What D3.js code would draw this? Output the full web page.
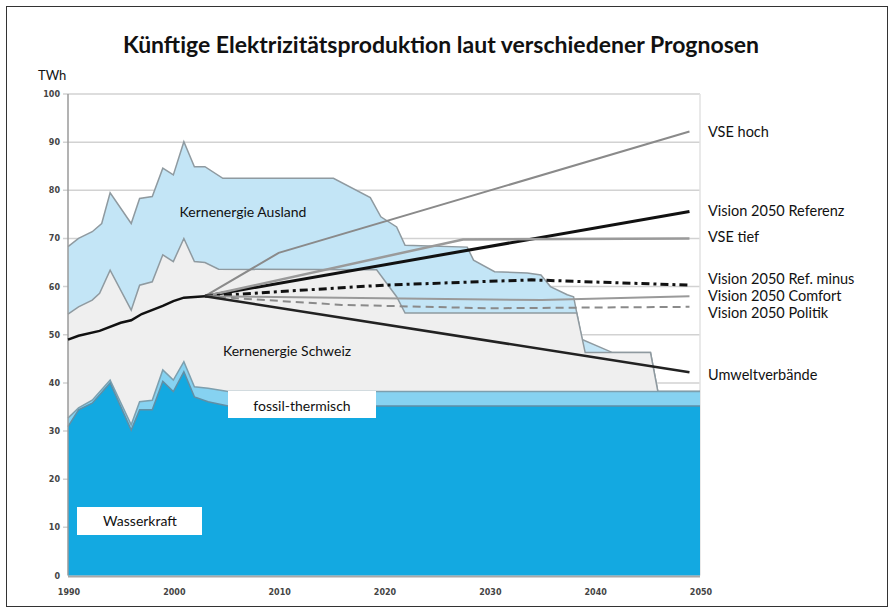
<!DOCTYPE html>
<html>
<head>
<meta charset="utf-8">
<script src="https://cdn.jsdelivr.net/npm/d3@7"></script>
<style>
  body { margin: 0; background: #fff; }
  svg { display: block; font-family: Lato, "Open Sans", sans-serif; }
  .tick-label { font-family: "DejaVu Sans", sans-serif; font-weight: bold; font-size: 8px; fill: #444; }
  .lbl { font-size: 14px; fill: #111; }
  .side { font-size: 14.5px; }
</style>
</head>
<body>
<div class="chart"></div>
<script>
// cumulative tops of the stacked supply areas (year, TWh)
const wasserkraft = [[1990, 30.9], [1991, 34.4], [1992.3, 35.8], [1994, 40], [1996, 30.2], [1996.8, 34.4],
  [1998, 34.4], [1999, 40.3], [2000, 38.2], [2001, 42.3], [2002, 37.1], [2003.3, 36.1], [2005.2, 35.2], [2050, 35.2]];
const fossil = [[1990, 32.7], [1991, 34.8], [1992.3, 36.4], [1994, 40.6], [1996, 31.3], [1996.8, 36.1],
  [1998, 36.4], [1999, 42.7], [2000, 40.6], [2001, 44.4], [2002, 39.2], [2003.3, 38.9], [2005.2, 38.2], [2050, 38.2]];
const kernSchweiz = [[1990, 54.3], [1991, 55.8], [1992.3, 57.2], [1993, 58.6], [1994, 63.4], [1996, 55.1],
  [1996.8, 60.3], [1998, 61], [1999, 66.6], [2000, 65.2], [2001, 70], [2002, 65.2], [2003, 65], [2004.3, 63.6],
  [2019.3, 63.5], [2021.2, 57.9], [2022, 54.5], [2038.3, 54.5], [2039.1, 46.3], [2045.3, 46.3], [2046, 38.2], [2050, 38.2]];
const kernAusland = [[1990, 68.3], [1991, 70], [1992.3, 71.4], [1993.2, 73.1], [1994, 79.5], [1996, 73.1],
  [1996.8, 78.3], [1998, 78.7], [1999, 84.6], [2000, 83.2], [2001, 90.1], [2002, 84.9], [2003, 84.9],
  [2004.7, 82.5], [2015.2, 82.5], [2018.7, 78.5], [2019.7, 74.5], [2021.2, 72.4], [2022, 68.6], [2027.9, 68.2],
  [2028.5, 65.5], [2030.5, 63.1], [2033.6, 62.8], [2034.9, 62.4], [2035.8, 60], [2037.4, 58.3], [2038, 57.9],
  [2038.8, 49], [2041.7, 46.3], [2045.3, 46.3], [2046, 38.2], [2050, 38.2]];

// production 1990-2003 and scenarios
const historisch = [[1990, 49], [1991, 49.8], [1993, 50.8], [1995, 52.5], [1996, 53], [1997, 54.3],
  [1999, 56], [2000, 57], [2001, 57.7], [2003, 58]];
const vseHoch = [[2003, 58], [2010, 67], [2049, 92.2]];
const referenz = [[2003, 58], [2049, 75.6]];
const vseTief = [[2003, 58], [2027.5, 69.8], [2049, 70]];
const refMinus = [[2003, 58], [2020, 60.3], [2034, 61.4], [2049, 60.3]];
const comfort = [[2003, 58], [2035, 57.2], [2049, 58]];
const politik = [[2003, 58], [2016, 56.2], [2030, 55.5], [2049, 55.8]];
const umwelt = [[2003, 58], [2049, 42.2]];

const scenarioNames = ["VSE hoch", "Vision 2050 Referenz", "VSE tief", "Vision 2050 Ref. minus",
  "Vision 2050 Comfort", "Vision 2050 Politik", "Umweltverbände"];
const labelValues = [92.2, 75.6, 70.2, 61.6, 58, 54.5, 41.6];

const yTicks = [0, 10, 20, 30, 40, 50, 60, 70, 80, 90, 100];
const xTicks = [1990, 2000, 2010, 2020, 2030, 2040, 2050];

const W = 895, H = 614;

const x = d3.scaleLinear().domain([1990, 2050]).range([68, 700]);
const y = d3.scaleLinear().domain([0, 100]).range([575.5, 94]);

const svg = d3.select(".chart").append("svg")
  .attr("width", W)
  .attr("height", H);

// frame
svg.append("rect")
  .attr("x", 6.5).attr("y", 6.5)
  .attr("width", 881).attr("height", 600)
  .attr("fill", "none")
  .attr("stroke", "#333")
  .attr("stroke-width", 1);

svg.append("text")
  .attr("x", 441).attr("y", 53)
  .attr("text-anchor", "middle")
  .style("font-size", "23px")
  .style("font-weight", "bold")
  .style("fill", "#111")
  .text("Künftige Elektrizitätsproduktion laut verschiedener Prognosen");

svg.append("text")
  .attr("x", 38).attr("y", 80)
  .attr("class", "lbl")
  .style("font-size", "13px")
  .text("TWh");

// gridlines
svg.append("g").selectAll("line")
  .data(yTicks.filter(d => d > 0))
  .join("line")
  .attr("x1", 63).attr("x2", 700)
  .attr("y1", d => y(d)).attr("y2", d => y(d))
  .attr("stroke", "#d2d2d2")
  .attr("stroke-width", 1.5);

svg.append("line")
  .attr("x1", 700).attr("x2", 700)
  .attr("y1", y(100)).attr("y2", y(0))
  .attr("stroke", "#e2e2e2")
  .attr("stroke-width", 1.5);

// stacked areas, painted from the largest down
const area = d3.area()
  .x(d => x(d[0]))
  .y0(y(0))
  .y1(d => y(d[1]));
const topLine = d3.line()
  .x(d => x(d[0]))
  .y(d => y(d[1]));

const layers = [
  { data: kernAusland, fill: "#c3e5f6", stroke: "#8f9aa0" },
  { data: kernSchweiz, fill: "#efefef", stroke: "#8f9aa0" },
  { data: fossil, fill: "#86d2f1", stroke: "#7d9fae" },
  { data: wasserkraft, fill: "#13a9e1", stroke: "#5f8fa6" }
];

layers.forEach(l => {
  svg.append("path")
    .datum(l.data)
    .attr("d", area)
    .attr("fill", l.fill);
  svg.append("path")
    .datum(l.data)
    .attr("d", topLine)
    .attr("fill", "none")
    .attr("stroke", l.stroke)
    .attr("stroke-width", 1.5);
});

// axes
svg.append("line")
  .attr("x1", 68).attr("x2", 68)
  .attr("y1", y(100)).attr("y2", y(0))
  .attr("stroke", "#9a9a9a")
  .attr("stroke-width", 1.5);
svg.append("line")
  .attr("x1", 68).attr("x2", 700)
  .attr("y1", y(0) + 1).attr("y2", y(0) + 1)
  .attr("stroke", "#a8a8a8")
  .attr("stroke-width", 2);

svg.append("g").selectAll("text")
  .data(yTicks)
  .join("text")
  .attr("class", "tick-label")
  .attr("x", 60)
  .attr("y", d => y(d) + 3)
  .attr("text-anchor", "end")
  .text(d => d);

svg.append("g").selectAll("text")
  .data(xTicks)
  .join("text")
  .attr("class", "tick-label")
  .attr("x", d => x(d) + 1)
  .attr("y", 595)
  .attr("text-anchor", "middle")
  .text(d => d);

// scenario lines
const scenarios = [
  { data: vseHoch, color: "#8a8a8a", width: 2, dash: null },
  { data: referenz, color: "#111", width: 3, dash: null },
  { data: vseTief, color: "#9a9a9a", width: 2.5, dash: null },
  { data: refMinus, color: "#111", width: 3, dash: "8,4,3,4" },
  { data: comfort, color: "#9a9a9a", width: 2, dash: null },
  { data: politik, color: "#8a8a8a", width: 2, dash: "8,5" },
  { data: umwelt, color: "#222", width: 2.5, dash: null }
];

scenarios.forEach(s => {
  svg.append("path")
    .datum(s.data)
    .attr("d", topLine)
    .attr("fill", "none")
    .attr("stroke", s.color)
    .attr("stroke-width", s.width)
    .attr("stroke-dasharray", s.dash);
});

svg.append("path")
  .datum(historisch)
  .attr("d", topLine)
  .attr("fill", "none")
  .attr("stroke", "#111")
  .attr("stroke-width", 2.5);

svg.append("g").selectAll("text")
  .data(scenarioNames)
  .join("text")
  .attr("class", "lbl side")
  .attr("x", 708)
  .attr("y", (d, i) => y(labelValues[i]) + 5)
  .text(d => d);

// area labels
svg.append("text").attr("class", "lbl")
  .attr("x", 243).attr("y", 217).attr("text-anchor", "middle")
  .text("Kernenergie Ausland");
svg.append("text").attr("class", "lbl")
  .attr("x", 287).attr("y", 356).attr("text-anchor", "middle")
  .text("Kernenergie Schweiz");

svg.append("rect")
  .attr("x", 228).attr("y", 391)
  .attr("width", 148).attr("height", 27)
  .attr("fill", "#fff");
svg.append("text").attr("class", "lbl")
  .attr("x", 302).attr("y", 411).attr("text-anchor", "middle")
  .text("fossil-thermisch");

svg.append("rect")
  .attr("x", 77).attr("y", 507)
  .attr("width", 125).attr("height", 28)
  .attr("fill", "#fff");
svg.append("text").attr("class", "lbl")
  .attr("x", 140).attr("y", 526).attr("text-anchor", "middle")
  .text("Wasserkraft");
</script>
</body>
</html>
